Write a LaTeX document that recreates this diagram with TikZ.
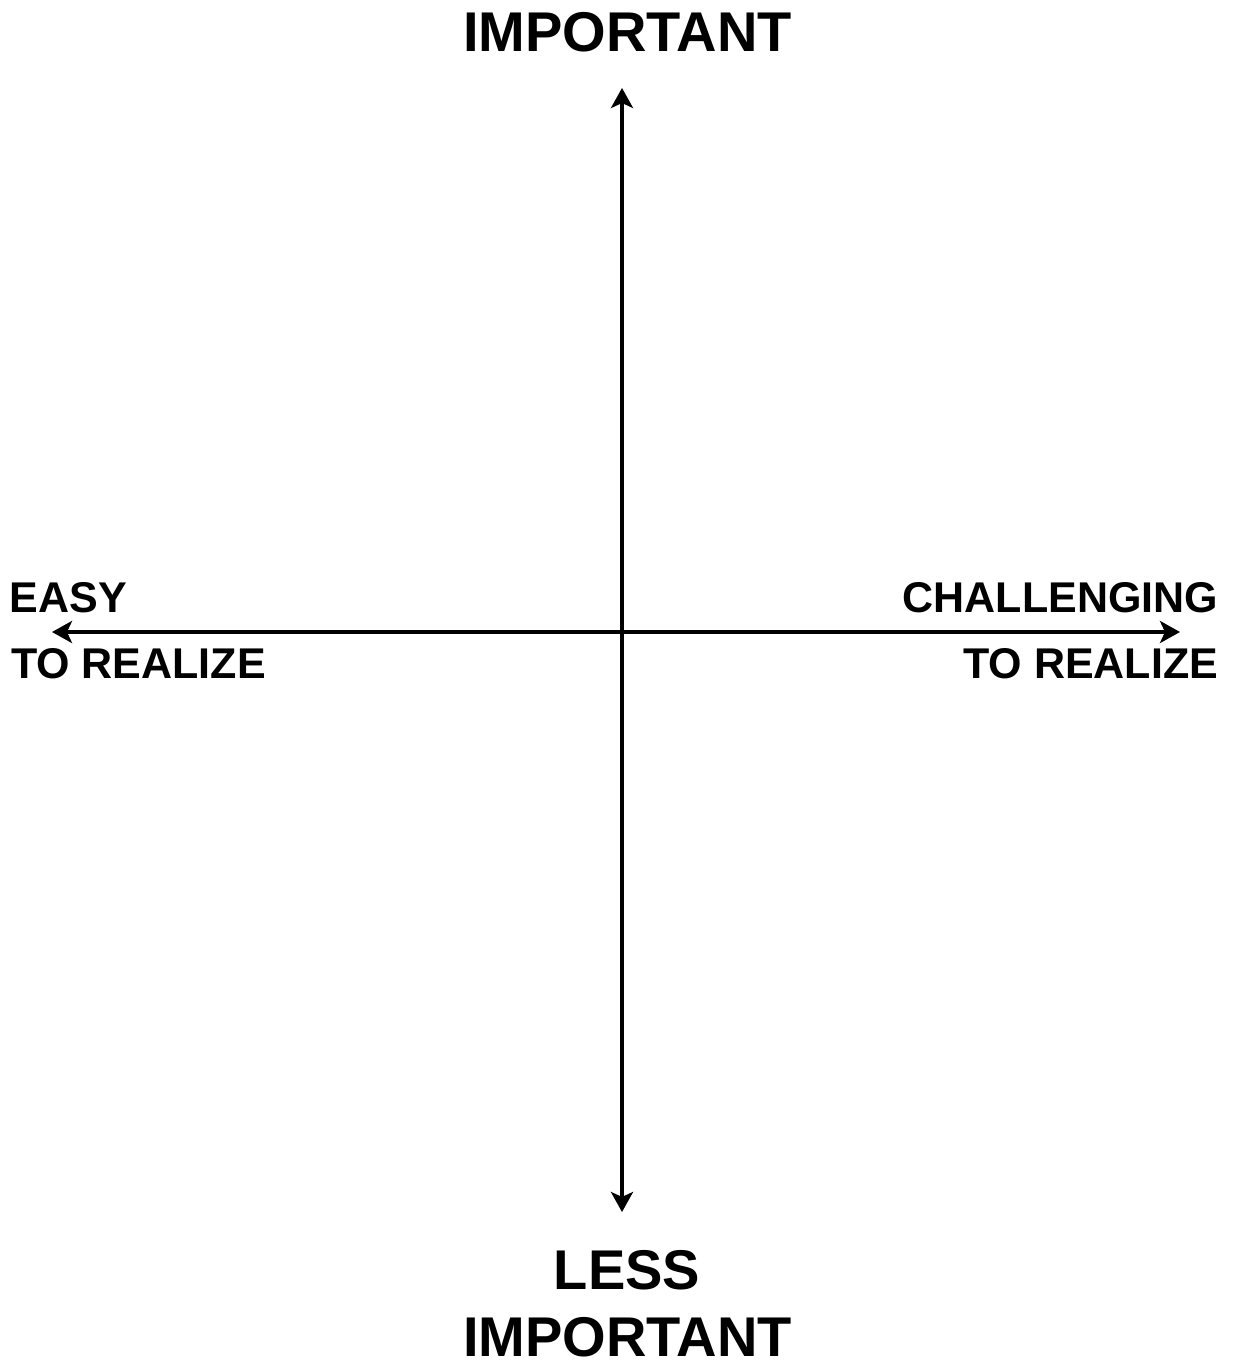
\documentclass[tikz,border=0pt]{standalone}
\usepackage{fontspec}
\setmainfont{Liberation Sans}
\usetikzlibrary{arrows.meta}
\begin{document}
\begin{tikzpicture}[x=0.5pt,y=-0.5pt,
  axis/.style={line width=2pt,{Stealth[length=10pt,width=11pt,inset=2.5pt]}-{Stealth[length=10pt,width=11pt,inset=2.5pt]}},
  big/.style={font=\fontsize{28}{32}\selectfont\bfseries,inner sep=0pt,outer sep=0pt},
  small/.style={font=\fontsize{21.5}{25}\selectfont\bfseries,inner sep=0pt,outer sep=0pt}]
\useasboundingbox (0,0) rectangle (1236,1363);
\coordinate (top) at (622,88);
\coordinate (bot) at (622,1212);
\coordinate (lft) at (52,632);
\coordinate (rgt) at (1180,632);
\draw[axis] (top) -- (bot);
\draw[axis] (lft) -- (rgt);
\node[big,anchor=base] (imp) at (627.5,52) {IMPORTANT};
\node[big,anchor=base] (less) at (627,1289) {LESS};
\node[big,anchor=base] (imp2) at (627.5,1356) {IMPORTANT};
\node[small,anchor=base west] (easy) at (10,612) {EASY};
\node[small,anchor=base west] (tor1) at (11,678) {TO REALIZE};
\node[small,anchor=base east] (chal) at (1218,612) {CHALLENGING};
\node[small,anchor=base east] (tor2) at (1218,678) {TO REALIZE};
\end{tikzpicture}
\end{document}
